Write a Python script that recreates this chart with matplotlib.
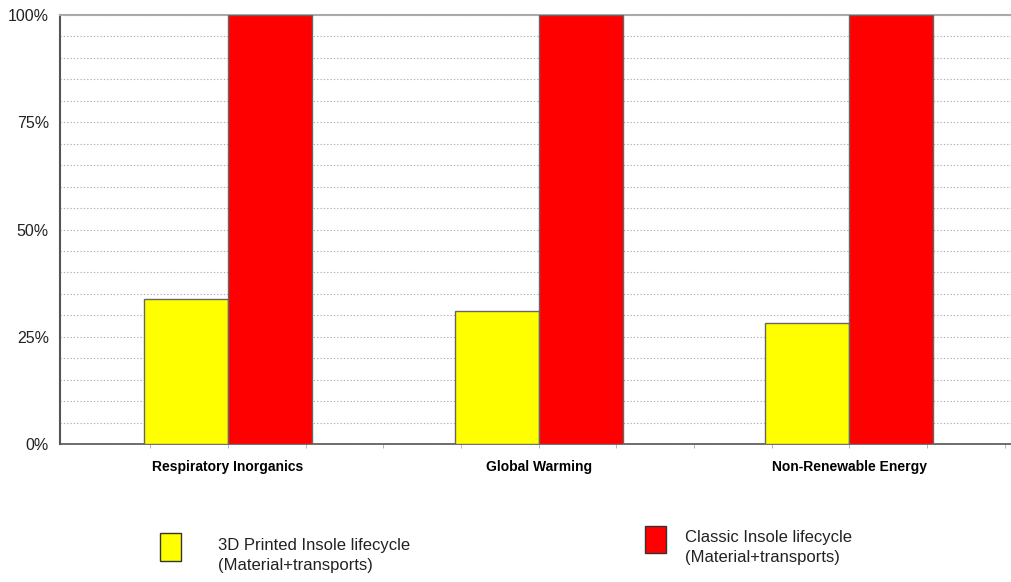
import matplotlib
matplotlib.use("Agg")
import matplotlib.pyplot as plt
import numpy as np
from matplotlib.patches import Rectangle

categories = ["Respiratory Inorganics", "Global Warming", "Non-Renewable Energy"]
printed = [33.8, 31.0, 28.2]
classic = [100.0, 100.0, 100.0]
series_names = ["3D Printed Insole lifecycle\n(Material+transports)",
                "Classic Insole lifecycle\n(Material+transports)"]
yticks = [0, 25, 50, 75, 100]
ytick_labels = ["0%", "25%", "50%", "75%", "100%"]

W, H = 1011, 582
fig = plt.figure(figsize=(W / 100, H / 100), dpi=100)
ax = fig.add_axes([60 / W, 1 - 444 / H, (W - 60) / W, (444 - 15) / H])

x = np.arange(len(categories))
bw = 0.27
ax.bar(x - bw / 2, printed, bw, color="#ffff00", edgecolor="#666666", linewidth=1, zorder=3)
ax.bar(x + bw / 2, classic, bw, color="#ff0000", edgecolor="#666666", linewidth=1, zorder=3)

ax.set_xlim(-0.54, 2.52)
ax.set_ylim(0, 100)
ax.set_yticks(yticks)
ax.set_yticklabels(ytick_labels, fontsize=11.5, color="#222222", family="Liberation Sans")
ax.set_yticks(np.arange(0, 101, 5), minor=True)
ax.yaxis.grid(True, which="both", linestyle=(0, (1.2, 1.8)), color="#b0b0b0", linewidth=0.8, zorder=0)
ax.tick_params(axis="y", which="both", length=0, pad=8)

ax.set_xticks(np.arange(-0.25, 2.51, 0.25))
ax.set_xticklabels([])
ax.tick_params(axis="x", which="both", length=3, color="#aaaaaa", width=0.6)
for xi, c in zip(x, categories):
    ax.text(xi, -5.4, c, ha="center", va="center", fontsize=10, fontweight="bold",
            family="Liberation Sans", transform=ax.transData, clip_on=False)

ax.spines["left"].set_color("#555555")
ax.spines["left"].set_linewidth(1.5)
ax.spines["bottom"].set_color("#555555")
ax.spines["bottom"].set_linewidth(1.2)
ax.spines["top"].set_color("#aaaaaa")
ax.spines["top"].set_linewidth(1.5)
ax.spines["right"].set_visible(False)

# legend
cols = ["#ffff00", "#ff0000"]
boxes = [(160, 533, 21, 28), (645, 526, 21, 27)]
texts = [(218, 538), (685, 530)]
for (bx, by, bwid, bh), (tx, ty), col, name in zip(boxes, texts, cols, series_names):
    fig.patches.append(Rectangle((bx / W, 1 - (by + bh) / H), bwid / W, bh / H,
                                 transform=fig.transFigure, facecolor=col,
                                 edgecolor="#333333", linewidth=1))
    fig.text(tx / W, 1 - ty / H, name, ha="left", va="top", fontsize=12,
             family="Liberation Sans", linespacing=1.45,
             color="#222222", transform=fig.transFigure)

fig.savefig("out.png", dpi=100)
